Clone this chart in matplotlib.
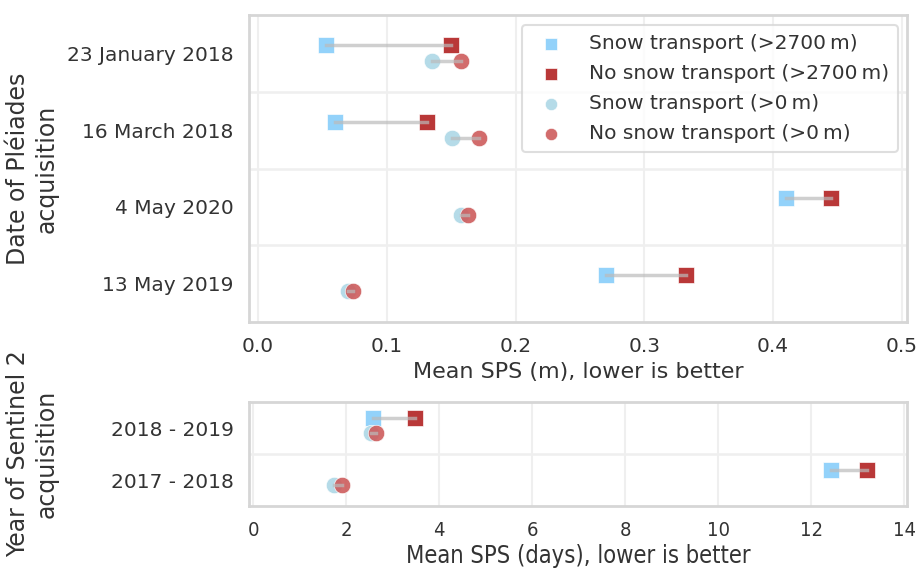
import matplotlib
matplotlib.use("Agg")
import matplotlib.pyplot as plt
import numpy as np

# Pleiades (m)
dates = ["23 January 2018", "16 March 2018", "4 May 2020", "13 May 2019"]
sq_snow = [0.053, 0.060, 0.410, 0.270]
sq_nosnow = [0.150, 0.131, 0.445, 0.332]
ci_snow = [0.135, 0.151, 0.158, 0.070]
ci_nosnow = [0.158, 0.172, 0.163, 0.074]

# Sentinel 2 (days)
years = ["2018 - 2019", "2017 - 2018"]
s2_sq_snow = [2.57, 12.43]
s2_sq_nosnow = [3.47, 13.19]
s2_ci_snow = [2.53, 1.74]
s2_ci_nosnow = [2.64, 1.90]

c_sq_snow = "#87cefa"
c_sq_nosnow = "#b22222"
c_ci_snow = "#add8e6"
c_ci_nosnow = "#cd5c5c"
txt = "#333333"
spine = "#d6d6d6"

plt.rcParams['font.family'] = ['DejaVu Sans']
plt.rcParams['text.color'] = txt
plt.rcParams['axes.labelcolor'] = txt
plt.rcParams['xtick.color'] = txt
plt.rcParams['ytick.color'] = txt

fig = plt.figure(figsize=(9.22, 5.71), dpi=100)
W, H = 922, 571
ax1 = fig.add_axes([249 / W, 1 - 322 / H, 658 / W, 307 / H])
ax2 = fig.add_axes([249 / W, 1 - 506 / H, 658 / W, 104 / H])


def dumbbell(ax, labels, a, b, c, d, off_sq, off_ci, legend=False):
    y = np.arange(len(labels))
    for i in range(len(labels)):
        ax.plot([a[i], b[i]], [y[i] + off_sq] * 2, color="#bbbbbb", lw=2.5, alpha=0.7, zorder=4)
        ax.plot([c[i], d[i]], [y[i] + off_ci] * 2, color="#bbbbbb", lw=2.5, alpha=0.7, zorder=4)
    ax.scatter(a, y + off_sq, marker="s", s=120, color=c_sq_snow, alpha=0.9, zorder=3,
               edgecolor="white", linewidth=0.5, label="Snow transport (>2700\u2009m)")
    ax.scatter(b, y + off_sq, marker="s", s=120, color=c_sq_nosnow, alpha=0.9, zorder=3,
               edgecolor="white", linewidth=0.5, label="No snow transport (>2700\u2009m)")
    ax.scatter(c, y + off_ci, marker="o", s=140, color=c_ci_snow, alpha=0.9, zorder=3,
               edgecolor="white", linewidth=0.5, label="Snow transport (>0\u2009m)")
    ax.scatter(d, y + off_ci, marker="o", s=140, color=c_ci_nosnow, alpha=0.9, zorder=3,
               edgecolor="white", linewidth=0.5, label="No snow transport (>0\u2009m)")
    ax.set_yticks(y)
    ax.set_yticklabels(labels, fontsize=14.5)
    ax.set_ylim(len(labels) - 0.5, -0.5)
    ax.set_yticks(np.arange(len(labels) - 1) + 0.5, minor=True)
    ax.tick_params(axis="y", which="both", length=0, pad=11)
    ax.tick_params(axis="x", length=0, labelsize=14.5, pad=11)
    ax.grid(axis="y", which="minor", color="#efefef", lw=1.8)
    ax.grid(axis="x", which="major", color="#efefef", lw=1.5)
    ax.set_axisbelow(True)
    for s in ax.spines.values():
        s.set_color(spine)
        s.set_linewidth(2)
    ax.yaxis.set_label_coords(-0.29, 0.5)
    if legend:
        leg = ax.legend(loc="upper right", fontsize=14.5, frameon=True, handletextpad=0.85,
                        borderpad=0.45, labelspacing=0.55, markerscale=0.75,
                        borderaxespad=0, bbox_to_anchor=(0.986, 0.967))
        leg.get_frame().set_edgecolor(spine)
        leg.get_frame().set_linewidth(1.5)


dumbbell(ax1, dates, sq_snow, sq_nosnow, ci_snow, ci_nosnow, -0.11, 0.1, legend=True)
ax1.set_xlim(-0.007, 0.504)
ax1.set_xticks(np.arange(0, 0.51, 0.1))
ax1.set_xticklabels(["0.0", "0.1", "0.2", "0.3", "0.4", "0.5"])
ax1.set_xlabel("Mean SPS (m), lower is better", fontsize=16, labelpad=4)
ax1.set_ylabel("Date of Pléiades\nacquisition", fontsize=17)

dumbbell(ax2, years, s2_sq_snow, s2_sq_nosnow, s2_ci_snow, s2_ci_nosnow, -0.19, 0.1)
ax2.set_xlim(-0.09, 14.06)
ax2.set_xticks(np.arange(0, 15, 2))
for t in ax2.get_xticklabels():
    t.set_fontstretch("condensed")
ax2.set_xlabel("Mean SPS (days), lower is better", fontsize=17, labelpad=3,
               fontstretch="condensed")
ax2.set_ylabel("Year of Sentinel 2\nacquisition", fontsize=17)

fig.savefig("out.png", dpi=100)
